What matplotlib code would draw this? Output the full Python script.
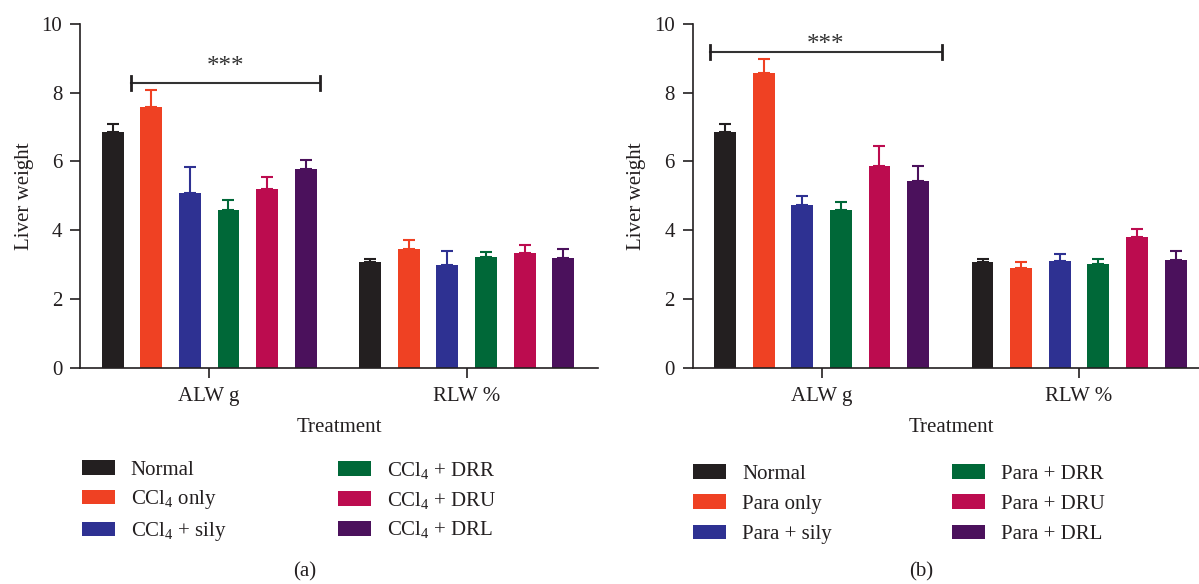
import numpy as np
from matplotlib import pyplot as plt

plt.rcParams['font.family'] = ['Liberation Serif', 'DejaVu Serif']
plt.rcParams['mathtext.fontset'] = 'custom'
plt.rcParams['mathtext.rm'] = 'Liberation Serif'
plt.rcParams['mathtext.it'] = 'Liberation Serif:italic'

# Data
groups = ['ALW g', 'RLW %']
colors = ['#231f20', '#ef4123', '#2e3192', '#006838', '#bc0c4f', '#4b115c']

labels_a = ['Normal', 'CCl$_\\mathregular{4}$ only', 'CCl$_\\mathregular{4}$ + sily',
            'CCl$_\\mathregular{4}$ + DRR', 'CCl$_\\mathregular{4}$ + DRU', 'CCl$_\\mathregular{4}$ + DRL']
alw_a = [6.85, 7.59, 5.07, 4.60, 5.20, 5.77]
alw_a_err = [0.24, 0.48, 0.78, 0.28, 0.36, 0.27]
rlw_a = [3.07, 3.46, 2.99, 3.22, 3.35, 3.20]
rlw_a_err = [0.10, 0.26, 0.41, 0.15, 0.23, 0.26]

labels_b = ['Normal', 'Para only', 'Para + sily', 'Para + DRR', 'Para + DRU', 'Para + DRL']
alw_b = [6.85, 8.58, 4.74, 4.60, 5.88, 5.44]
alw_b_err = [0.24, 0.41, 0.26, 0.23, 0.58, 0.44]
rlw_b = [3.07, 2.91, 3.11, 3.02, 3.80, 3.14]
rlw_b_err = [0.10, 0.17, 0.21, 0.15, 0.24, 0.25]

TXT = '#231f20'
FS = 15
H = 584.0
W = 1199.0

fig = plt.figure(figsize=(11.99, 5.84), dpi=100)


def panel(rect, alw, alw_err, rlw, rlw_err, labels, sig_x, sig_y, star_x, star_y,
          leg_cols, leg_top, leg_space, tag, tag_x):
    ax = fig.add_axes(rect)
    vals = np.array([alw, rlw])
    errs = np.array([alw_err, rlw_err])
    pitch, width = 0.15, 0.085
    x = np.arange(len(groups))
    handles = []
    for i in range(len(colors)):
        xi = x + (i - 2.5) * pitch
        b = ax.bar(xi, vals[:, i], width, color=colors[i], label=labels[i], zorder=2)
        handles.append(b)
        ax.errorbar(xi, vals[:, i], yerr=[np.zeros(2), errs[:, i]], fmt='none',
                    ecolor=colors[i], elinewidth=1.5, capsize=4, capthick=1.5, zorder=3)

    ax.set_xlim(-0.5, 1.51)
    ax.set_ylim(0, 10)
    ax.set_yticks(np.arange(0, 11, 2))
    ax.set_xticks(x)
    ax.set_xticklabels(groups)
    for s in ['top', 'right']:
        ax.spines[s].set_visible(False)
    for s in ['left', 'bottom']:
        ax.spines[s].set_color(TXT)
        ax.spines[s].set_linewidth(1.2)
    ax.tick_params(axis='both', length=7, width=1.2, color=TXT, labelcolor=TXT, labelsize=FS)
    ax.tick_params(axis='y', pad=6)
    ax.tick_params(axis='x', pad=7)

    ax.set_ylabel('Liver weight', fontsize=FS, color=TXT, va='center')
    ax.yaxis.set_label_coords(-0.108, 0.5)
    ax.set_xlabel('Treatment', fontsize=FS, color=TXT)
    ax.xaxis.label.set_va('center')
    ax.xaxis.set_label_coords(0.5, -0.175)

    # significance bracket
    ax.plot(sig_x, [sig_y, sig_y], color='#333333', lw=1.5, clip_on=False)
    for xx in sig_x:
        ax.plot([xx, xx], [sig_y - 0.2, sig_y + 0.2], color='#231f20', lw=2, clip_on=False)
    ax.text(star_x, star_y, '***', ha='center', va='center', fontsize=18, color='#333333')

    # legend, one column at a time
    for c in range(2):
        leg = fig.legend(handles=handles[3 * c:3 * c + 3], labels=labels[3 * c:3 * c + 3],
                         loc='upper left', bbox_to_anchor=(leg_cols[c] / W, 1 - leg_top / H),
                         frameon=False, fontsize=FS, handlelength=1.6, handleheight=0.7,
                         handletextpad=0.75, labelspacing=leg_space, borderpad=0,
                         borderaxespad=0)
        for t in leg.get_texts():
            t.set_color(TXT)
    fig.text(tag_x, 1 - 572 / H, tag, ha='center', va='center', fontsize=FS, color=TXT)
    return ax


bottom = (H - 367.7) / H
height = (367.7 - 24) / H
axw = 517.6 / W

panel([80.4 / W, bottom, axw, height], alw_a, alw_a_err, rlw_a, rlw_a_err, labels_a,
      [-0.305, 0.432], 8.29, 0.063, 8.74, (81.7, 338), 460, 0.42, '(a)', 305 / W)
panel([692.8 / W, bottom, axw, height], alw_b, alw_b_err, rlw_b, rlw_b_err, labels_b,
      [-0.434, 0.468], 9.19, 0.015, 9.38, (693, 952), 464, 0.52, '(b)', 921 / W)

fig.savefig('out.png', dpi=100)
